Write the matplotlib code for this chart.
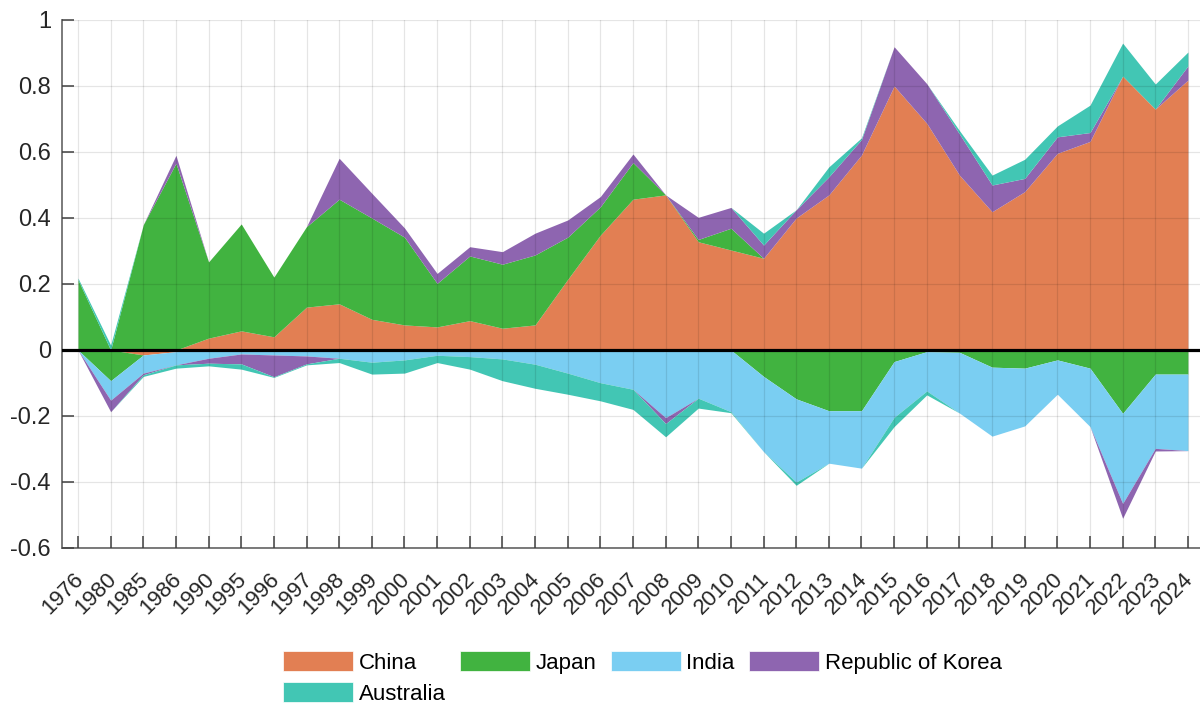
import numpy as np
import matplotlib.pyplot as plt
import matplotlib.transforms as mtransforms
from matplotlib.patches import Patch

years = ['1976', '1980', '1985', '1986', '1990', '1995', '1996', '1997', '1998', '1999',
         '2000', '2001', '2002', '2003', '2004', '2005', '2006', '2007', '2008', '2009',
         '2010', '2011', '2012', '2013', '2014', '2015', '2016', '2017', '2018', '2019',
         '2020', '2021', '2022', '2023', '2024']

china = [0.0, 0.0, -0.015, -0.005, 0.036, 0.058, 0.040, 0.130, 0.140, 0.093,
         0.076, 0.070, 0.089, 0.066, 0.076, 0.214, 0.348, 0.457, 0.470, 0.328,
         0.303, 0.278, 0.400, 0.470, 0.591, 0.800, 0.687, 0.530, 0.419, 0.480,
         0.596, 0.632, 0.830, 0.730, 0.818]
japan = [0.213, -0.093, 0.380, 0.566, 0.231, 0.324, 0.181, 0.244, 0.317, 0.307,
         0.266, 0.132, 0.196, 0.194, 0.212, 0.128, 0.086, 0.111, -0.005, 0.007,
         0.066, -0.080, -0.148, -0.184, -0.184, -0.035, -0.005, -0.007, -0.052, -0.055,
         -0.030, -0.055, -0.192, -0.073, -0.073]
india = [0.0, -0.059, -0.055, -0.040, -0.025, -0.012, -0.015, -0.018, -0.025, -0.037,
         -0.030, -0.016, -0.020, -0.027, -0.043, -0.070, -0.099, -0.119, -0.200, -0.146,
         -0.187, -0.228, -0.252, -0.159, -0.174, -0.169, -0.119, -0.184, -0.209, -0.175,
         -0.104, -0.177, -0.273, -0.225, -0.232]
korea = [0.0, -0.035, -0.005, 0.024, -0.015, -0.030, -0.066, -0.024, 0.124, 0.075,
         0.028, 0.030, 0.028, 0.038, 0.066, 0.052, 0.031, 0.026, -0.018, 0.067,
         0.063, 0.040, 0.025, 0.055, 0.047, 0.119, 0.120, 0.125, 0.081, 0.040,
         0.050, 0.027, -0.045, -0.008, 0.043]
australia = [0.005, 0.015, -0.005, -0.010, -0.008, -0.016, -0.002, -0.003, -0.013, -0.036,
             -0.040, -0.022, -0.038, -0.066, -0.073, -0.064, -0.055, -0.061, -0.040, -0.030,
             -0.003, 0.036, -0.010, 0.030, 0.005, -0.028, -0.012, 0.010, 0.030, 0.058,
             0.033, 0.083, 0.100, 0.076, 0.042]

names = ['China', 'Japan', 'India', 'Republic of Korea', 'Australia']
colors = ['#E27F53', '#41B340', '#7ACEF2', '#8E65B0', '#42C6B4']
series = [china, japan, india, korea, australia]

plt.rcParams['font.family'] = ['Liberation Sans', 'DejaVu Sans']

fig = plt.figure(figsize=(12, 7.06), dpi=100)
ax = fig.add_axes([62 / 1200, 158 / 706, 1138 / 1200, 528 / 706])

x = np.arange(len(years))
pos_base = np.zeros(len(years))
neg_base = np.zeros(len(years))
for vals, col in zip(series, colors):
    v = np.array(vals)
    p = np.clip(v, 0, None)
    n = np.clip(v, None, 0)
    ax.fill_between(x, pos_base, pos_base + p, color=col, lw=0, zorder=1)
    ax.fill_between(x, neg_base, neg_base + n, color=col, lw=0, zorder=1)
    pos_base = pos_base + p
    neg_base = neg_base + n

ax.axhline(0, color='black', lw=2.3, zorder=3)

ax.set_xlim(-0.49, 34.37)
ax.set_ylim(-0.6, 1.0)
ax.set_xticks(x)
ax.set_xticklabels(years, rotation=45, ha='right', va='top', rotation_mode='anchor')
yt = np.round(np.arange(-0.6, 1.01, 0.2), 1)
ax.set_yticks(yt)
ax.set_yticklabels([f'{v:g}' for v in yt])

ax.grid(True, color='black', alpha=0.1, lw=0.9, zorder=2)
ax.set_axisbelow(False)
for s in ['top', 'right']:
    ax.spines[s].set_visible(False)
for s in ['left', 'bottom']:
    ax.spines[s].set_color('#707070')
    ax.spines[s].set_linewidth(1.3)
ax.tick_params(axis='both', direction='in', length=8.5, width=1.1, color='#404040',
               labelsize=17, labelcolor='#262626')
ax.tick_params(axis='x', pad=15, labelsize=16)
ax.tick_params(axis='y', pad=8)

offset = mtransforms.ScaledTranslation(-5 / 100, 0, fig.dpi_scale_trans)
for lbl in ax.get_xticklabels():
    lbl.set_transform(lbl.get_transform() + offset)

# legend fills column by column, so order the handles to read row by row
handles = {n: Patch(facecolor=c, edgecolor='white', lw=0.5, label=n) for n, c in zip(names, colors)}
order = ['China', 'Australia', 'Japan', 'India', 'Republic of Korea']
fig.legend(handles=[handles[n] for n in order], loc='upper left',
           bbox_to_anchor=(283 / 1200, 1 - 651 / 706),
           ncol=4, frameon=False, fontsize=16, handlelength=3.15, handleheight=1.0,
           handletextpad=0.25, columnspacing=0.65, labelspacing=0.4,
           borderpad=0, borderaxespad=0)

fig.savefig('out.png', dpi=100)
